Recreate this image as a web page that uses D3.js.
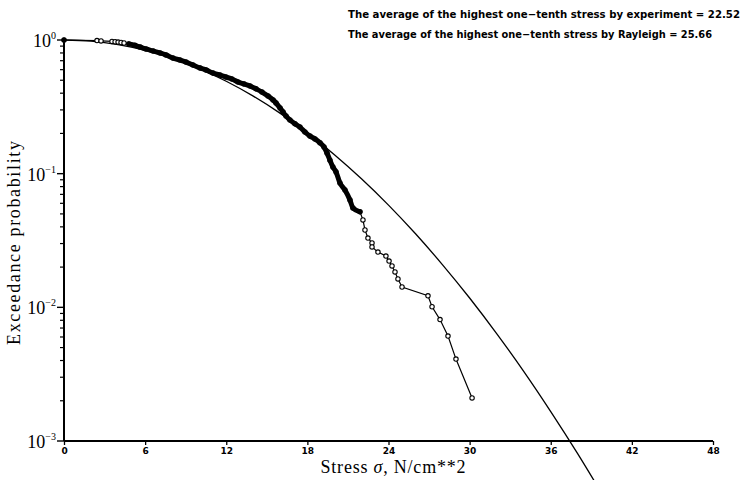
<!DOCTYPE html>
<html>
<head>
<meta charset="utf-8">
<script src="https://cdn.jsdelivr.net/npm/d3@7"></script>
<style>
  body { margin: 0; background: #fff; }
  svg { display: block; }
</style>
</head>
<body>
<svg id="chart" width="751" height="480"></svg>
<script>
(function() {
  'use strict';

  // measured stresses (N/cm**2) and their exceedance probability
  var expStress = [0, 2.44, 2.74, 3.55, 3.78, 4.0, 4.22, 4.44, 4.80,
    5.25, 5.62, 6.06, 6.58, 7.10, 7.54, 8.06, 8.58, 9.02, 9.54, 10.06,
    10.50, 11.02, 11.54, 11.98, 12.42, 12.87, 13.31, 13.76, 14.20, 14.64,
    15.09, 15.46, 15.68, 15.98, 16.20, 16.42, 16.71, 17.08, 17.45, 17.82,
    18.19, 18.56, 18.93, 19.23, 19.45, 19.67, 19.89, 20.12, 20.41, 20.78,
    21.15, 21.37, 21.89, 22.11, 22.26, 22.48, 22.78, 22.78, 23.22, 23.81,
    24.04, 24.26, 24.48, 24.70, 25.00, 26.92, 27.22, 27.81, 28.40, 28.99, 30.18];
  var expProb = [1.0, 0.99, 0.985, 0.975, 0.97, 0.965, 0.958, 0.95, 0.935,
    0.912, 0.887, 0.857, 0.828, 0.800, 0.773, 0.733, 0.708, 0.684, 0.650, 0.618,
    0.597, 0.566, 0.547, 0.528, 0.511, 0.485, 0.469, 0.453, 0.431, 0.408,
    0.381, 0.356, 0.338, 0.310, 0.289, 0.270, 0.252, 0.236, 0.223, 0.205,
    0.191, 0.182, 0.170, 0.158, 0.143, 0.126, 0.112, 0.103, 0.0851, 0.0755,
    0.0635, 0.0553, 0.0518, 0.0451, 0.0379, 0.0330, 0.0303, 0.0283, 0.0259, 0.0242,
    0.0222, 0.0204, 0.0184, 0.0163, 0.0142, 0.0122, 0.0101, 0.0081, 0.0061, 0.0041, 0.0021];
  // the stretch where the markers pile up into a solid band
  var denseFrom = 8, denseTo = 52;

  // Rayleigh curve
  var rayStress = [0, 2, 4, 6, 8, 10, 12, 14, 16, 18, 20, 22, 24, 26, 28, 30, 32, 34, 36, 38, 40];
  var rayProb = [1, 0.9804, 0.924, 0.837, 0.729, 0.610, 0.491, 0.380, 0.2825, 0.2019,
    0.1387, 0.0916, 0.0582, 0.0355, 0.0208, 0.01174, 0.00636, 0.00332, 0.00166, 0.000801, 0.000371];

  var xTicks = [0, 6, 12, 18, 24, 30, 36, 42, 48];
  var yDecades = [0, -1, -2, -3];
  var notes = [
    "The average of the highest one\u2212tenth stress by experiment =  22.52",
    "The average of the highest one\u2212tenth stress by Rayleigh =  25.66"
  ];
  var noteWidths = [392, 364];

  var svg = d3.select("#chart");
  var x = d3.scaleLinear().domain([0, 48]).range([64, 713]);
  var y = d3.scaleLog().domain([1e-3, 1]).range([441, 40]);

  var tickFont = "'DejaVu Sans', Arial, sans-serif";
  var serif = "'Liberation Serif', 'Times New Roman', serif";

  // x axis
  var xAxis = d3.axisBottom(x).tickValues(xTicks).tickSize(4).tickPadding(3)
    .tickFormat(d3.format("d"));
  var gx = svg.append("g")
    .attr("transform", "translate(0," + y(1e-3) + ")")
    .call(xAxis);
  gx.select(".domain").attr("stroke-width", 1.8).attr("d", "M" + x(0) + ",0H" + x(48));
  gx.selectAll(".tick line").attr("stroke-width", 1.3);
  gx.selectAll(".tick text")
    .attr("font-family", tickFont).attr("font-weight", "bold").attr("font-size", 9);

  // y axis: minor ticks, then decades
  var minor = [];
  yDecades.slice(0, 3).forEach(function(e) {
    for (var k = 2; k <= 9; k++) minor.push(k * Math.pow(10, e - 1));
  });
  svg.append("g").selectAll("line").data(minor).join("line")
    .attr("x1", x(0) - 4).attr("x2", x(0))
    .attr("y1", function(d) { return y(d); }).attr("y2", function(d) { return y(d); })
    .attr("stroke", "#000").attr("stroke-width", 1.2);
  svg.append("g").selectAll("line").data(yDecades).join("line")
    .attr("x1", x(0) - 7).attr("x2", x(0))
    .attr("y1", function(d) { return y(Math.pow(10, d)); })
    .attr("y2", function(d) { return y(Math.pow(10, d)); })
    .attr("stroke", "#000").attr("stroke-width", 1.4);
  svg.append("line")
    .attr("x1", x(0)).attr("x2", x(0)).attr("y1", y(1)).attr("y2", y(1e-3))
    .attr("stroke", "#000").attr("stroke-width", 2);

  var yl = svg.append("g").selectAll("text").data(yDecades).join("text")
    .attr("x", x(0) - 8)
    .attr("y", function(d) { return y(Math.pow(10, d)) + 7; })
    .attr("text-anchor", "end")
    .attr("font-family", serif).attr("font-size", 18);
  yl.append("tspan").text("10");
  yl.append("tspan").attr("dy", -8).attr("font-size", 10)
    .text(function(d) { return d === 0 ? "0" : "\u2212" + (-d); });

  // axis titles
  var xt = svg.append("text")
    .attr("x", 393).attr("y", 473).attr("text-anchor", "middle")
    .attr("font-family", serif).attr("font-size", 18)
    .attr("textLength", 145).attr("lengthAdjust", "spacing");
  xt.append("tspan").text("Stress ");
  xt.append("tspan").attr("font-style", "italic").text("\u03c3");
  xt.append("tspan").text(", N/cm**2");

  svg.append("text")
    .attr("transform", "translate(20,243) rotate(-90)")
    .attr("text-anchor", "middle")
    .attr("font-family", serif).attr("font-size", 18)
    .attr("textLength", 204).attr("lengthAdjust", "spacing")
    .text("Exceedance probability");

  svg.append("g").selectAll("text").data(notes).join("text")
    .attr("x", 348).attr("y", function(d, i) { return 18 + i * 20; })
    .attr("font-family", tickFont).attr("font-weight", "bold").attr("font-size", 10)
    .attr("textLength", function(d, i) { return noteWidths[i]; })
    .attr("lengthAdjust", "spacingAndGlyphs")
    .text(function(d) { return d; });

  // Rayleigh line
  var ray = rayStress.map(function(s, i) { return [s, rayProb[i]]; });
  svg.append("path").datum(ray)
    .attr("fill", "none").attr("stroke", "#000").attr("stroke-width", 1.3)
    .attr("d", d3.line()
      .x(function(d) { return x(d[0]); })
      .y(function(d) { return y(d[1]); })
      .curve(d3.curveMonotoneX));

  // experiment
  var pts = expStress.map(function(s, i) { return [s, expProb[i]]; });
  var line = d3.line()
    .x(function(d) { return x(d[0]); })
    .y(function(d) { return y(d[1]); });
  svg.append("path").datum(pts)
    .attr("fill", "none").attr("stroke", "#000").attr("stroke-width", 1.2)
    .attr("d", line);
  svg.append("g").selectAll("circle").data(pts).join("circle")
    .attr("cx", function(d) { return x(d[0]); })
    .attr("cy", function(d) { return y(d[1]); })
    .attr("r", 2.2)
    .attr("fill", "#fff").attr("stroke", "#000").attr("stroke-width", 1.1);
  svg.append("path").datum(pts.slice(denseFrom, denseTo + 1))
    .attr("fill", "none").attr("stroke", "#000").attr("stroke-width", 5)
    .attr("stroke-linejoin", "round").attr("stroke-linecap", "round")
    .attr("d", line.curve(d3.curveMonotoneX));
  svg.append("circle")
    .attr("cx", x(0)).attr("cy", y(1)).attr("r", 2.5).attr("fill", "#000");
}());
</script>
</body>
</html>
